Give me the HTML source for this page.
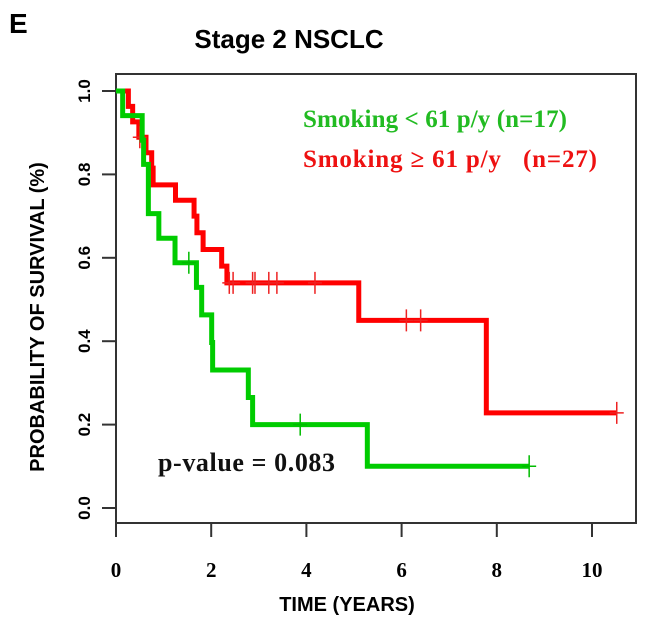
<!DOCTYPE html>
<html><head><meta charset="utf-8">
<style>
body{margin:0;background:#fff;}
svg{display:block;}
.sans{font-family:"Liberation Sans",Arial,sans-serif;font-weight:bold;}
.serif{font-family:"Liberation Serif","Times New Roman",serif;font-weight:bold;}
</style></head>
<body>
<svg id="chart" width="649" height="620" viewBox="0 0 649 620" xmlns="http://www.w3.org/2000/svg">
<text x="9" y="33" class="sans" font-size="28">E</text>
<text x="289" y="48" class="sans" font-size="26" text-anchor="middle">Stage 2 NSCLC</text>
<rect x="116" y="74" width="520" height="449" fill="none" stroke="#333" stroke-width="2"/>
<g id="axes"></g>
<g id="series"></g>
<text x="347" y="611" class="sans" font-size="20" text-anchor="middle">TIME (YEARS)</text>
<text transform="translate(44,317) rotate(-90)" class="sans" font-size="20" text-anchor="middle">PROBABILITY OF SURVIVAL (%)</text>
<text x="303" y="127" class="serif" font-size="25" fill="#22bb22" textLength="264">Smoking &lt; 61 p/y (n=17)</text>
<text x="303" y="167" class="serif" font-size="25" fill="#ee1111" xml:space="preserve" textLength="294">Smoking ≥ 61 p/y   (n=27)</text>
<text x="158" y="471" class="serif" font-size="26" fill="#111" textLength="177">p-value = 0.083</text>
</svg>
<script>
const xTicks=[0,2,4,6,8,10];
const yTicks=[0.0,0.2,0.4,0.6,0.8,1.0];
const yTickLabels=["0.0","0.2","0.4","0.6","0.8","1.0"];
const greenTimes=[0.14,0.55,0.58,0.68,0.9,1.24,1.69,1.8,2.01,2.03,2.78,2.87,5.28];
const greenSurv=[0.941,0.882,0.824,0.706,0.647,0.588,0.529,0.463,0.397,0.331,0.265,0.2,0.1];
const greenEnd=8.68;
const greenCensor=[1.53,3.87,8.68];
const greenCensorSurv=[0.588,0.2,0.1];
const redTimes=[0.26,0.35,0.48,0.63,0.75,0.78,1.25,1.64,1.7,1.83,2.22,2.33,5.1,7.78];
const redSurv=[0.963,0.926,0.889,0.852,0.815,0.775,0.738,0.70,0.66,0.62,0.58,0.54,0.45,0.228];
const redEnd=10.52;
const redCensor=[0.5,2.38,2.46,2.87,2.92,3.21,3.38,4.18,6.1,6.4,10.52];
const redCensorSurv=[0.889,0.54,0.54,0.54,0.54,0.54,0.54,0.54,0.45,0.45,0.228];

const NS="http://www.w3.org/2000/svg";
const X=t=>116+t*47.6;
const Y=s=>508-s*417;
const axes=document.getElementById('axes');
const series=document.getElementById('series');
function mk(tag,attrs,parent){const e=document.createElementNS(NS,tag);for(const k in attrs)e.setAttribute(k,attrs[k]);parent.appendChild(e);return e;}
xTicks.forEach(t=>{
  const l=mk('line',{x1:X(t),x2:X(t),y1:523,y2:537,stroke:'#333','stroke-width':2},axes);
  
  
  const tx=mk('text',{x:X(t),y:577,'text-anchor':'middle','font-size':21,class:'serif'},axes);
  tx.textContent=t;
  
  
});
yTicks.forEach((v,i)=>{
  const l=mk('line',{x1:102,x2:116,y1:Y(v),y2:Y(v),stroke:'#333','stroke-width':2},axes);
  
  
  const tx=mk('text',{transform:`translate(90,${Y(v)}) rotate(-90)`,'text-anchor':'middle','font-size':17,class:'sans'},axes);
  tx.textContent=yTickLabels[i];
  
  
});
function curve(times,surv,end,color,name){
  let d=`M${X(0)},${Y(1)}`;
  times.forEach((t,i)=>{d+=` H${X(t)} V${Y(surv[i])}`;});
  d+=` H${X(end)}`;
  const p=mk('path',{d:d,fill:'none',stroke:color,'stroke-width':5,'stroke-linejoin':'miter'},series);
  
  
}
function censors(times,surv,color,name){
  times.forEach((t,i)=>{
    const p=mk('path',{d:`M${X(t)},${Y(surv[i])-11} V${Y(surv[i])+11} M${X(t)-7},${Y(surv[i])} H${X(t)+7}`,stroke:color,'stroke-width':1.5,fill:'none'},series);
    
    
  });
}
curve(redTimes,redSurv,redEnd,'#ff0000','red-survival-curve');
censors(redCensor,redCensorSurv,'#ee2222','red-censor-mark');
curve(greenTimes,greenSurv,greenEnd,'#00cc00','green-survival-curve');
censors(greenCensor,greenCensorSurv,'#00bb00','green-censor-mark');
</script>
</body></html>
